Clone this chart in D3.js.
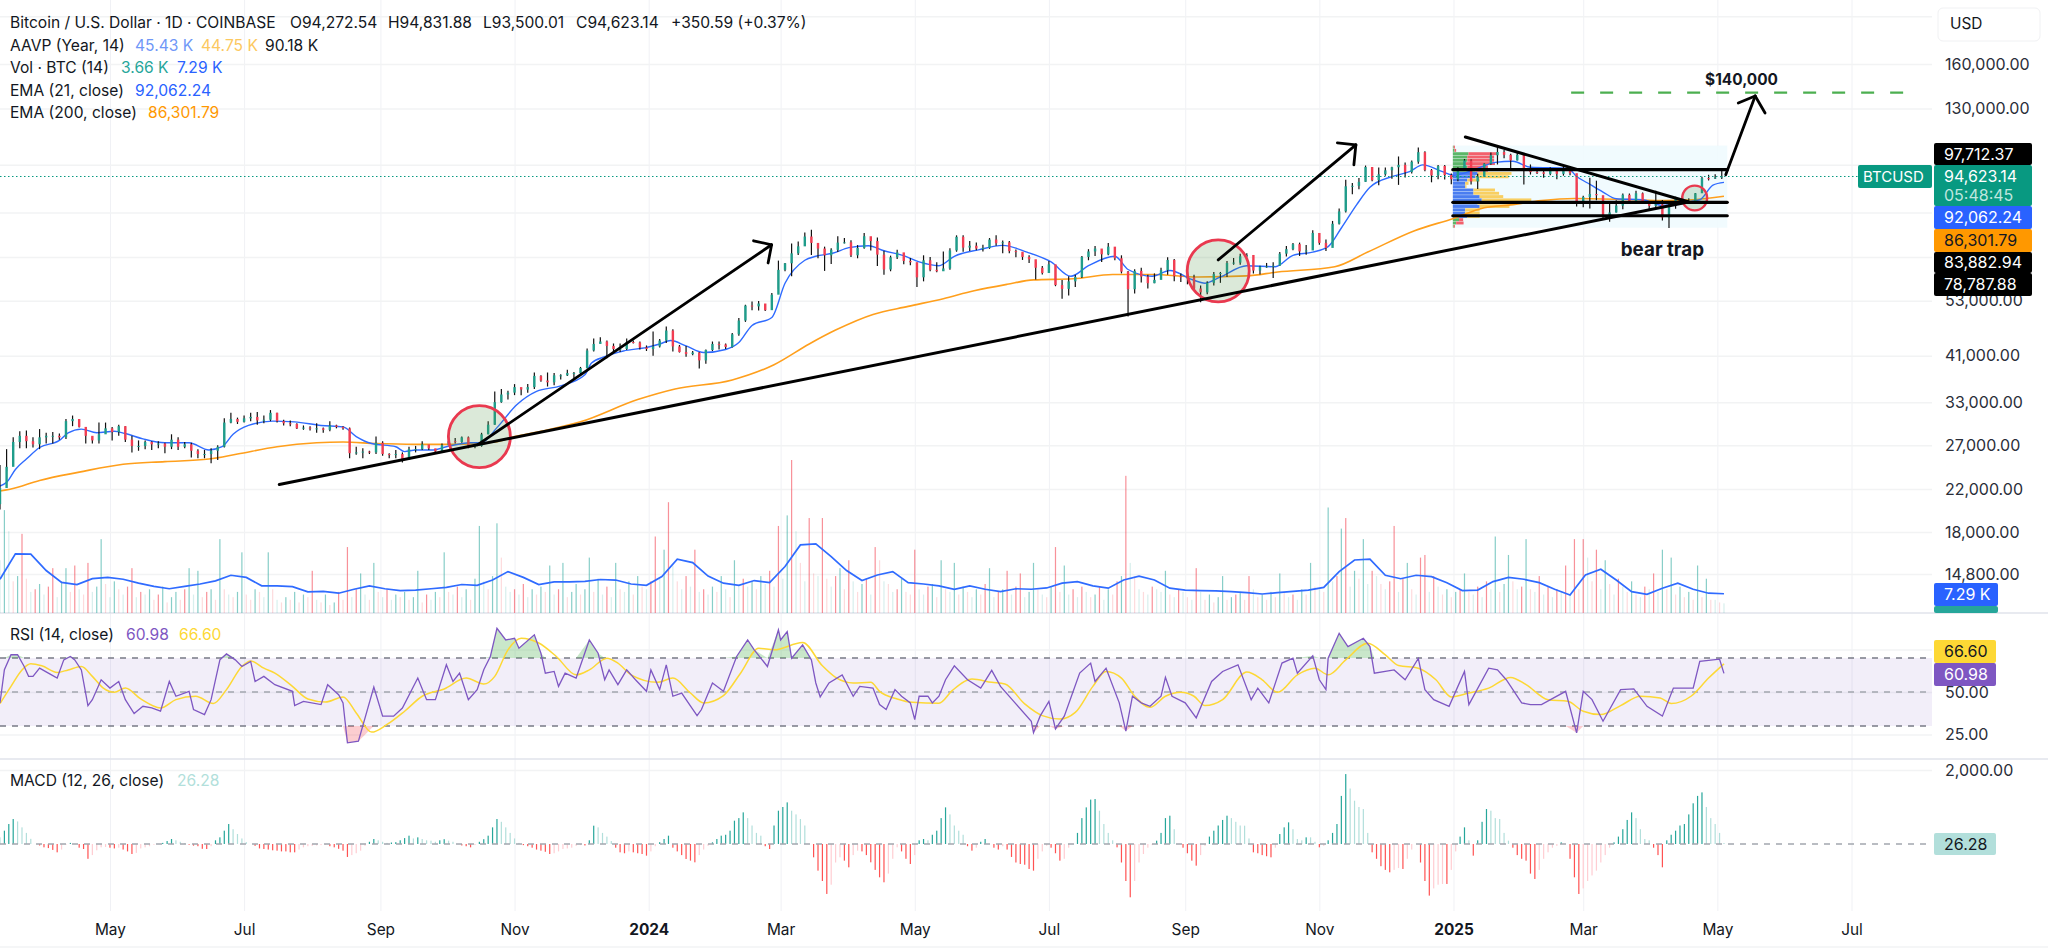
<!DOCTYPE html>
<html>
<head>
<meta charset="utf-8">
<title>BTCUSD</title>
<script src="https://cdn.jsdelivr.net/npm/d3@7"></script>
<style>
  html, body { margin: 0; padding: 0; background: #fff; }
  svg { display: block; font-family: Inter, "Noto Sans", sans-serif; }
</style>
</head>
<body>
<div id="chart"></div>
<script>
// 1: DATA. Days count from the first candle (12 Mar 2023), prices in thousands of USD

// one candle per 3 days
const closes = [
  22.1,24.4,27.4,28.2,27.5,27.1,28.0,28.2,28.2,28.0,
  30.2,30.5,29.4,28.2,27.6,28.4,29.2,28.7,29.5,27.7,
  26.9,26.9,27.4,27.1,27.2,26.8,27.7,26.8,27.1,26.3,
  25.9,25.9,26.3,26.8,30.0,30.5,30.1,30.6,30.8,30.3,
  30.4,31.4,30.2,29.9,29.8,29.2,29.3,29.2,29.2,29.0,
  29.6,29.4,29.2,26.0,26.1,26.2,26.1,27.3,25.9,25.8,
  25.9,25.2,26.5,26.5,27.1,26.6,26.2,27.0,27.5,27.4,
  28.0,26.9,26.9,28.4,29.7,33.0,34.2,34.5,35.4,35.0,
  35.4,37.3,36.5,36.2,37.4,37.4,37.8,37.8,38.7,42.0,
  43.3,43.8,42.9,42.3,42.3,43.7,43.6,42.6,42.3,42.8,
  44.0,46.1,42.8,41.7,41.3,41.6,40.1,42.1,43.3,43.2,
  42.7,45.3,48.3,51.8,51.6,52.3,50.7,54.5,61.2,63.1,
  66.1,68.3,71.5,69.4,67.6,65.5,67.2,69.5,69.6,65.5,
  67.8,71.6,70.0,65.7,61.3,64.9,66.4,63.8,63.4,59.1,
  64.0,61.2,60.8,61.6,67.0,71.4,67.9,68.5,67.6,67.8,
  70.5,69.3,69.6,66.8,66.6,65.0,64.3,61.8,60.3,62.8,
  57.0,56.0,58.0,59.2,65.0,66.7,67.6,65.8,68.2,64.6,
  60.7,55.9,60.9,59.3,57.5,58.4,61.1,64.1,59.4,59.1,
  59.1,56.1,55.1,57.6,60.0,60.3,63.2,63.3,65.2,65.6,
  61.0,62.1,62.2,62.4,66.0,67.4,69.0,66.7,67.0,72.7,
  69.4,67.8,75.9,80.4,90.4,90.6,92.3,98.9,93.0,95.6,
  97.4,98.8,99.9,96.6,101.4,106.0,97.5,95.1,99.4,95.3,
  93.4,98.1,102.0,92.5,94.5,100.5,104.5,106.1,104.7,102.0,
  104.7,97.7,96.6,96.5,95.8,97.5,95.8,98.2,96.1,84.3,
  86.0,87.2,86.7,78.5,80.0,82.6,86.9,83.8,87.5,84.3,
  82.5,83.1,78.2,82.6,85.3,83.6,84.4,87.5,93.9,93.7,
  94.2,94.62
];
const highs = [
  24.6,26.5,28.0,28.8,28.9,28.0,29.1,28.6,28.7,28.5,
  30.5,31.0,30.3,29.4,28.0,30.0,30.0,29.4,29.7,29.5,
  28.2,27.6,27.6,27.5,27.5,27.3,28.4,28.0,27.4,27.3,
  26.5,26.4,26.6,27.0,30.6,31.4,30.7,31.0,31.4,31.5,
  31.0,31.8,31.4,30.4,30.3,29.9,29.6,29.5,29.9,29.3,
  30.2,29.7,29.5,29.3,26.8,26.6,26.3,28.1,27.5,26.0,
  26.4,26.1,26.8,26.9,27.5,27.0,26.5,27.2,28.5,27.9,
  28.1,28.1,27.1,28.6,30.2,34.7,35.1,34.8,35.9,35.3,
  35.9,37.9,37.4,37.9,37.8,37.6,38.4,38.0,38.9,42.4,
  44.4,44.7,44.0,43.4,43.4,44.4,44.0,43.8,43.0,45.9,
  44.3,47.0,46.4,43.1,42.9,41.9,41.7,42.2,43.8,43.8,
  43.4,45.6,48.9,52.0,52.8,52.9,52.0,54.9,63.9,63.2,
  69.2,69.9,72.9,73.8,68.9,68.2,67.7,71.6,71.0,70.3,
  68.7,72.7,71.3,71.2,66.9,65.4,67.2,65.3,64.7,63.3,
  65.5,65.0,63.4,66.7,67.7,71.9,71.9,70.0,69.5,68.8,
  71.0,71.9,70.2,70.0,67.3,66.0,65.5,63.4,62.3,63.8,
  62.6,58.4,59.4,59.8,65.3,67.4,68.4,67.1,69.4,66.8,
  65.5,60.9,61.4,61.8,59.8,60.2,61.8,64.9,64.4,60.2,
  59.8,59.8,56.9,58.0,60.6,60.6,63.8,64.7,66.0,66.1,
  64.1,62.4,63.2,63.4,66.5,68.4,69.4,69.5,68.7,73.6,
  72.7,70.5,76.9,81.5,93.2,91.8,94.0,99.6,98.9,98.7,
  98.7,99.0,103.9,101.0,102.0,108.3,106.5,98.0,99.8,99.9,
  96.0,98.8,102.7,102.5,95.8,100.7,105.9,109.1,107.1,105.2,
  106.4,102.8,100.1,98.0,98.0,98.8,97.0,99.5,99.4,92.0,
  86.5,94.1,92.8,86.5,84.3,84.7,87.4,87.4,88.5,87.8,
  83.8,88.5,84.8,83.5,86.1,86.5,85.5,87.6,94.5,95.4,
  95.6,97.4
];
const lows = [
  20.0,23.9,24.8,26.6,26.6,26.7,26.5,27.2,27.2,27.7,
  27.8,29.5,29.3,27.2,27.2,27.2,28.9,27.6,28.2,27.4,
  26.1,26.3,26.5,26.4,26.6,26.0,26.5,26.4,26.6,25.5,
  25.4,25.4,24.8,25.2,26.7,29.9,29.8,30.0,30.2,29.7,
  29.9,30.2,30.0,29.6,29.5,29.1,29.0,28.9,28.6,28.6,
  28.8,29.2,29.0,25.4,25.8,25.4,25.9,25.9,25.7,25.4,
  25.4,24.9,25.2,26.1,26.4,26.4,26.0,26.1,27.2,27.2,
  27.3,26.6,26.6,26.8,28.4,29.7,32.9,33.4,34.1,34.1,
  34.5,35.1,36.3,35.5,35.7,36.7,37.3,36.9,37.6,38.6,
  41.8,43.5,40.5,41.5,41.7,42.1,43.4,42.2,41.9,41.0,
  42.6,43.5,41.8,41.6,40.8,41.1,38.6,39.5,41.9,42.2,
  42.3,42.6,45.0,48.0,50.7,50.6,50.5,50.9,56.0,60.8,
  59.4,65.6,68.5,65.6,64.6,60.9,62.9,66.5,69.2,65.0,
  64.6,67.5,67.0,62.3,59.8,60.8,64.4,62.8,62.5,56.5,
  58.0,60.8,60.5,60.9,61.2,66.6,66.6,66.8,67.1,66.7,
  67.5,68.5,66.1,66.1,64.9,64.1,63.2,58.5,59.9,60.5,
  56.7,53.5,54.3,56.5,58.9,64.0,65.3,63.5,65.5,64.0,
  60.2,49.2,54.8,57.7,56.1,57.5,58.8,59.8,58.0,57.8,
  57.2,55.6,52.6,54.6,56.9,57.6,59.2,62.7,62.7,65.0,
  60.2,59.9,61.8,58.9,62.4,65.1,67.1,65.3,65.7,67.5,
  68.8,66.8,68.5,75.6,80.0,87.1,89.2,92.3,92.6,90.8,
  95.0,93.6,91.0,94.2,96.0,100.4,97.0,92.1,93.4,93.3,
  91.3,92.5,97.9,91.2,89.3,94.8,100.0,100.1,103.0,97.8,
  102.0,91.2,95.5,95.7,94.1,95.2,93.4,95.0,95.2,82.3,
  82.0,81.5,84.7,78.0,76.6,80.0,81.2,83.6,85.0,83.5,
  81.3,81.5,77.1,74.4,81.4,83.1,83.9,83.9,91.7,92.9,
  93.5,93.5
];

// [day, price]
const ema21 = [
  [0,22.3],[3,22.7],[7,24.1],[12,25.3],[18,26.7],[27,27.6],[31,28.6],[37,29.1],[44,28.6],[52,28.8],
  [57,28.5],[65,27.8],[75,27.3],[86,27.3],[95,26.4],[101,26.8],[106,28.4],[113,29.6],[124,30.2],[134,30.1],
  [146,29.6],[156,29.4],[162,28.1],[169,27.2],[180,26.8],[184,26.2],[189,26.4],[197,26.4],[203,26.8],[214,27.3],
  [219,27.3],[226,29.3],[235,32.6],[244,34.7],[255,35.6],[266,37.5],[269,39.6],[275,40.8],[283.5,41.9],[294,42.6],
  [300,43.3],[305,44],[312,42.9],[320,41.6],[330,42.2],[336,43.6],[342,47.2],[351,49],[357,57.5],[366,64],
  [371,65.2],[379,66.2],[386,67.9],[395,68.5],[402,66.9],[411,65.4],[418,63.5],[427,62.4],[434,65.2],[445,67.2],
  [456,68.6],[467,66.5],[478,63.5],[487,59.4],[495,62.4],[507,65.2],[513,61.3],[524,59.4],[532,61],[542,58.5],
  [548,57.5],[555,59.2],[567,62.4],[580,62.1],[588,65.5],[597,66.5],[604,68.2],[610,74.4],[617,83],[623,90],
  [633,94.6],[641,96.8],[647,99.9],[656,96.8],[661,95.2],[670,97.5],[680,101.1],[688,101.6],[696,98.8],[713,98.3],
  [717,94.6],[722,91.8],[729,88],[735,85.3],[747,84.9],[756,82.7],[766,83.9],[773,84.9],[779,90.9],[784,92.06]
];
const ema200 = [
  [0,21.8],[5,22],[18,22.9],[36,23.8],[56,24.7],[75,25],[95,25.3],[108,25.9],[126,26.8],[144,27.3],
  [156,27.4],[171,27.2],[189,27.1],[207,27.1],[225,27.4],[234,28.1],[246,28.8],[264,30.1],[290,33.4],[307,35.1],
  [333,36.6],[352,39.3],[368,43.3],[380,46.2],[397,49.7],[413,51.6],[429,53.5],[443,55.5],[458,57.2],[470,58.4],
  [488,58.7],[506,59.9],[524,59.9],[545,59.2],[567,59.5],[581,60.6],[607,62.1],[622,66.5],[643,73.4],[661,77.8],
  [675,81.8],[687,82.9],[701,84.6],[716,85.4],[740,85],[757,84.6],[770,84.9],[784,86.3]
];

// one volume bar per 2 days, thousands of BTC, sign = candle direction
const volumes = [
  20,39,31,-12,14,-30,-13,8,-9,11,
  7,-10,-17,6,12,17,-8,-18,9,-7,
  -19,8,10,28,-11,6,12,-9,7,-10,
  -17,6,-8,7,9,-5,-7,10,-4,6,
  8,-5,-9,17,7,16,-6,-8,9,-5,
  28,-9,7,-6,8,23,-7,-5,9,-8,
  6,23,-9,5,-4,6,-5,8,-4,7,
  -6,-16,5,-4,7,-3,4,-8,-5,-25,
  6,-9,15,7,-5,19,-8,6,-9,5,
  7,-6,8,-5,6,16,-4,-7,5,8,
  -6,23,-8,7,-10,6,9,-5,13,33,
  12,-9,14,34,-21,10,8,-9,7,-11,
  6,9,-7,10,-8,18,7,-9,19,-6,
  8,11,-7,9,21,-8,13,7,-10,6,
  19,-9,8,12,-7,14,-10,9,-12,-29,
  13,24,-42,18,-12,9,-14,10,-24,8,
  -9,7,10,-8,14,9,-6,20,11,-13,
  10,12,-9,14,11,-16,10,-33,13,37,
  -58,31,-19,12,-36,-15,14,-36,-13,10,
  -14,17,-9,-20,12,-8,11,-13,7,-25,
  -20,12,-11,8,-9,13,-8,-7,-24,9,
  7,-10,11,-6,20,-9,8,19,-7,10,
  -8,6,9,-7,-11,17,6,-8,9,-16,
  7,-10,-15,6,8,19,-9,7,-6,10,
  -25,-8,18,7,-9,6,-10,8,-6,7,
  -10,5,9,-7,-12,14,-52,19,-14,9,
  -8,7,-10,9,8,16,-7,6,-9,8,
  -6,5,-17,8,-5,7,-4,6,14,-5,
  6,-7,8,-5,-14,9,-6,7,-5,8,
  -6,15,-8,6,-7,5,9,-7,19,-10,
  9,-8,40,12,-14,32,-36,10,16,-13,
  28,11,-16,14,-11,9,-12,-33,8,-13,
  19,-9,7,-21,-22,8,-14,10,-7,9,
  -6,8,-9,15,-8,7,-10,6,-12,9,
  29,-8,11,22,-12,9,-10,28,-9,8,
  -14,7,-10,6,-9,8,-18,7,-28,-9,
  -28,21,-12,-24,9,20,-11,7,-13,10,
  -8,12,-7,6,-10,9,-15,8,24,-9,
  21,-7,10,-6,8,-5,18,-6,13,-5,
  5,-4,3.66
];
// one point per 7 days
const volumeMa = [
  12.8,22.4,22.3,16.1,11.6,10.8,13,13.5,12.8,11.3,
  10.1,9.2,10.1,11,12.2,14.3,13.5,10.3,10.3,10,
  8,8.2,7.5,9,10.3,9.2,8.5,8.7,9.2,9.7,
  10.8,10.5,12.5,15.7,13.5,10.8,11.8,11.8,12,12.7,
  12.5,11,10.5,13.8,20.4,19.1,14,11.3,10.5,12.3,
  11.5,17.6,25.8,26.2,21.4,16.1,12.3,14.4,15.7,11.5,
  11,10.3,9,10.3,9,8.1,9.2,9,9.5,11.3,
  11.9,10.3,9.4,12.5,14,12.5,9.4,8.7,8.5,8.4,
  8.1,7.7,7.2,7.7,8.2,8.7,9.7,15.7,20.1,20.4,
  14.3,13,14.3,13.8,11.5,8.5,8.7,11.9,13.5,12.8,
  11.5,9,6.8,14.4,16.6,12.5,8.1,7.1,9.4,11.3,
  9,7.5,7.29
];

// [day, value]
const rsi = [
  [0,43.6],[2,63.1],[5,71.9],[8,71.9],[11,65],[13,59.2],[15,59.2],[18,64],[22,61.1],[26,58.2],
  [29,68.9],[32,70.9],[34,68.9],[37,63],[40,42],[42,45.5],[46,57.2],[50,52.3],[54,56.2],[57,45.5],
  [61,37.3],[65,41.6],[69,40.6],[73,38.7],[77,56.2],[80,47.5],[86,50.4],[88,39.7],[93,36.7],[96,45.5],
  [100,68.9],[103,72.4],[107,68.9],[110,65],[114,68],[116,56.2],[120,59.2],[125,54.3],[133,50.4],[134,42],
  [138,44.5],[146,42.6],[149,54.3],[154,48.4],[156,43.6],[158,20.1],[163,21.1],[170,52.9],[174,35.8],[179,35.8],
  [183,40.6],[190,58.2],[194,45.5],[198,45.5],[203,66],[206,56.2],[209,61.1],[213,45.5],[217,51.4],[220,63.1],
  [223,70.9],[226,87.5],[230,80.6],[234,81.6],[236,75.8],[243,83.6],[246,72.8],[248,61.1],[252,62.1],[254,53.3],
  [257,61.1],[262,58.2],[268,80.6],[272,72.8],[275,57.2],[277,63],[281,54.3],[285,63],[289,57.2],[294,50.4],
  [296,63],[300,51.4],[303,66],[306,47.5],[310,49.4],[317,36.1],[319,39.7],[324,55.3],[329,50.4],[335,70.9],
  [340,80.6],[343,74.8],[349,65],[354,86.5],[355,80.6],[358,85.5],[360,69.9],[365,77.7],[369,68.9],[371,55.3],
  [373,47.1],[377,55.3],[383,60.1],[388,47.5],[391,53.3],[397,52.3],[400,42.6],[403,39.7],[407,51.4],[410,47.5],
  [414,43.6],[416,33.8],[418,47.5],[422,47.5],[424,43.6],[427,47.5],[430,57.2],[434,65.4],[440,57.2],[446,52.3],
  [451,62.7],[455,53.3],[461,44.5],[469,32.8],[470,26],[473,35.8],[477,44.5],[480,28.3],[484,35.8],[491,61.1],
  [496,67],[498,56.2],[503,64],[509,43.6],[512,27],[515,47.5],[519,43.6],[523,41.6],[528,47.5],[530,58.6],
  [533,47.5],[539,43.6],[544,34.8],[551,56.2],[556,62.1],[563,66],[569,45.5],[572,52.3],[577,43.6],[583,67],
  [588,69.9],[590,61.1],[597,71.3],[600,57.2],[603,51.4],[604,69.9],[609,84.5],[613,76.7],[620,81.6],[623,76.7],
  [625,61.1],[634,63],[639,57.2],[645,69.7],[648,51.4],[652,45.5],[659,41.6],[666,62.1],[668,42.6],[677,64],
  [681,63],[685,57.2],[692,43.6],[696,42.6],[701,42.6],[712,50.4],[717,26],[720,50.4],[724,45.5],[729,32.8],
  [737,51.4],[743,51.8],[749,41.6],[756,35.8],[761,52.3],[770,52.3],[773,68],[782,69.3],[784,60.98]
];
const rsiMa = [
  [0,43.2],[5,53.3],[10,63],[14,66.6],[19,65.4],[26,61.5],[31,63],[37,65],[42,59.2],[47,52.3],
  [52,49.8],[57,52.3],[64,45.9],[73,40.6],[80,45.5],[89,47.5],[97,43.2],[103,51.4],[110,65],[114,68.3],
  [120,64],[125,61.1],[133,53.3],[140,45.9],[148,44.1],[156,47.1],[162,37.7],[169,26.4],[176,30.9],[184,38.7],
  [192,47.5],[202,51.8],[212,58.2],[220,54.7],[225,59.2],[231,74.8],[237,81.6],[245,78.8],[253,70.9],[262,60.1],
  [268,63],[276,69.9],[281,67],[287,60.1],[299,55.7],[306,58.2],[314,49.4],[320,43.6],[329,47.9],[337,61.5],
  [345,75.7],[352,74.8],[365,79.1],[374,65.4],[380,58.6],[388,55.3],[396,55.7],[400,50.4],[408,45.9],[415,43.9],
  [427,43.4],[433,50.8],[442,57.6],[451,55.7],[457,54.7],[466,43],[474,36.1],[482,34.1],[489,38],[497,53.3],
  [503,62.1],[510,58.2],[516,47.5],[523,41],[530,47.5],[537,49.8],[543,47.5],[548,42],[556,45.5],[567,61.7],
  [574,57.2],[581,49.8],[590,60.1],[598,64],[604,60.1],[612,68.9],[622,78.7],[630,71.8],[636,65.6],[645,64],
  [653,57.2],[660,47.1],[668,49.4],[677,52.3],[687,58.6],[694,54.3],[704,45.5],[713,44.5],[720,38.7],[728,36.7],
  [737,42],[746,47.5],[755,46.5],[760,43.2],[769,47.5],[777,58.2],[784,66.6]
];

// one histogram bar per 2 days
const macd = [
  180,360,540,675,610,450,300,140,0,-40,
  -90,-110,-160,-225,-150,-20,30,0,-100,-135,
  -400,-300,-170,-90,-80,-100,-120,-100,-150,-200,
  -270,-240,-120,-90,-60,-20,0,30,80,135,
  100,60,20,-20,-45,-60,-130,-135,-60,100,
  180,360,540,400,270,150,50,0,-50,-120,
  -135,-150,-170,-180,-200,-200,-225,-225,-150,-90,
  -60,-50,-40,-30,-20,-60,-90,-130,-180,-350,
  -300,-250,-180,-50,60,135,100,60,30,40,
  50,100,160,225,150,180,135,100,90,60,
  100,130,90,60,0,-40,-60,-90,-30,60,
  130,225,450,675,600,450,300,150,30,-30,
  -60,-100,-150,-180,-210,-270,-250,-200,-135,-120,
  -100,-50,-30,-40,100,495,450,300,200,80,
  -100,-225,-250,-200,-225,-250,-270,-315,-200,-60,
  50,135,225,-100,-200,-300,-405,-450,-495,-300,
  -150,-50,45,135,225,250,360,630,700,855,
  700,500,300,225,-60,-135,500,900,1000,1125,
  900,800,675,500,0,-360,-720,-1000,-1350,-1100,
  -500,-360,-450,-630,-300,-180,-200,-300,-495,-700,
  -900,-1035,-800,-400,-90,-200,-400,-540,-300,100,
  135,100,250,360,700,990,800,500,360,250,
  -60,-180,-100,60,135,0,-100,-150,-60,-150,
  -350,-500,-540,-560,-675,-720,-400,-200,-45,-100,
  -250,-450,-400,-100,0,300,700,990,1200,1215,
  900,540,300,100,-90,-500,-1000,-1440,-1000,-500,
  -270,-100,-30,90,300,700,765,400,0,-100,
  -250,-450,-585,-300,-50,200,360,500,650,765,
  700,600,500,495,150,-225,-250,-300,-330,-360,
  -100,270,450,585,400,135,100,180,180,60,
  -90,-50,100,300,540,1300,1890,1500,1170,1000,
  945,300,-225,-400,-600,-700,-765,-700,-650,-675,
  -400,-150,0,-500,-1000,-1395,-1200,-1100,-1080,-1080,
  -700,-200,200,450,100,-315,100,600,945,900,
  700,675,300,90,-100,-300,-400,-450,-800,-945,
  -700,-400,-225,-100,-50,45,0,-400,-900,-1350,
  -1200,-1000,-850,-720,-500,-300,-100,45,200,400,
  650,855,700,400,135,100,-100,-300,-630,100,
  250,360,500,540,800,1100,1300,1395,1000,700,
  540,300,26.28
];

// volume profile rows from top to bottom: left and right segment of each row
const profileLeft = [2,4,38,35,35,30,35,55,60,55,35,30,30,50,50,65,70,60,65,30,30,35,15,8,2];
const profileRight = [3,4,70,65,65,72,50,30,82,80,30,8,3,52,62,57,120,90,72,35,35,30,10,18,3];

// drawn annotations, [day, price]
const trendLine = [[127,22.46],[766,83.7]];
const fallingLine = [[666.4,113.8],[767.7,84.1]];
const arrows = [
  {from: [217.3,27.06], tip: [350.9,68.8], head: [[342.7,70.1],[349.3,63.2]]},
  {from: [554,64.1], tip: [616.6,109.7], head: [[608.2,110.7],[615.7,99.9]]},
  {from: [784.8,95.4], tip: [798.2,137.8], head: [[790.5,133.4],[802.7,127.3]]}
];
const levels = [97.71237, 83.88294, 78.78788];
const circles = [[218,28.1,31],[554,60.9,31],[770.7,85.6,12.4]];

// 200k, 100k, 80k, 65k only show as grid lines, their labels sit behind the tags
const priceTicks = [200000,160000,130000,100000,80000,65000,53000,41000,33000,27000,22000,18000,14800];
const hiddenLabels = [200000,100000,80000,65000,75];
const monthTicks = [
  [2023,4,"May"],[2023,6,"Jul"],[2023,8,"Sep"],[2023,10,"Nov"],[2024,0,"2024"],[2024,2,"Mar"],[2024,4,"May"],
  [2024,6,"Jul"],[2024,8,"Sep"],[2024,10,"Nov"],[2025,0,"2025"],[2025,2,"Mar"],[2025,4,"May"],[2025,6,"Jul"]
];

// 2: SVG AND SCALES
const width = 2048, height = 948;
const plotRight = 1932;
const firstDay = new Date(2023, 2, 12);

const svg = d3.select("#chart").append("svg")
    .attr("width", width)
    .attr("height", height);

const x = d3.scaleTime()
    .domain([firstDay, new Date(2025, 6, 1)])
    .range([0, 1851.5]);
const xDay = d => x(d3.timeDay.offset(firstDay, Math.floor(d))) + (d % 1) * 2.2;

const yPrice = d3.scaleLog().domain([160000, 22000]).range([64, 489]);
const yK = k => yPrice(k * 1000);
const yVol = d3.scaleLinear().domain([0, 58]).range([613, 460]);
const yRsi = d3.scaleLinear().domain([30, 70]).range([726, 658]);
const yMacd = d3.scaleLinear().domain([0, 2000]).range([844, 770]);
const profileWidth = d3.scaleLinear().domain([0, 100]).range([0, 41.3]);

// 3: GRID AND AXES
const monthDates = monthTicks.map(d => new Date(d[0], d[1], 1));
const monthLabel = new Map(monthDates.map((d, i) => [+d, monthTicks[i][2]]));

const xAxis = svg.append("g")
    .attr("transform", "translate(0,911)")
    .call(d3.axisBottom(x).tickValues(monthDates).tickSize(-911).tickPadding(13)
        .tickFormat(d => monthLabel.get(+d)));
xAxis.select(".domain").remove();
xAxis.selectAll("line").attr("stroke", "#f0f1f5").attr("stroke-width", 1);
xAxis.selectAll("text")
    .attr("font-family", "Inter, sans-serif")
    .attr("font-size", 15.4)
    .attr("fill", "#131722")
    .attr("font-weight", d => d.getMonth() === 0 ? 700 : 400);

function rightAxis(scale, ticks, format) {
    const g = svg.append("g")
        .attr("transform", `translate(${plotRight},0)`)
        .call(d3.axisRight(scale).tickValues(ticks).tickSize(-plotRight).tickPadding(13).tickFormat(format));
    g.select(".domain").remove();
    g.selectAll("line").attr("stroke", "#f2f3f4").attr("stroke-width", 1.5);
    g.selectAll("text")
        .attr("font-family", "Inter, sans-serif")
        .attr("font-size", 16)
        .attr("fill", "#2a2e39");
    return g;
}
const fmt = d => hiddenLabels.includes(d) ? "" : d3.format(",.2f")(d);
rightAxis(yPrice, priceTicks, fmt);
rightAxis(yRsi, [75, 50, 25], fmt);
rightAxis(yMacd, [2000], fmt);

// pane separators
[613, 759].forEach(y => {
    svg.append("line").attr("x1", 0).attr("x2", width).attr("y1", y).attr("y2", y)
        .attr("stroke", "#e0e3eb").attr("stroke-width", 1.5);
});
svg.append("line").attr("x1", 0).attr("x2", width).attr("y1", 947).attr("y2", 947)
    .attr("stroke", "#f2f3f4").attr("stroke-width", 1.5);

// 4: PRICE PANE
const boxLeft = xDay(660.7), boxRight = xDay(785.5);

// volume profile
svg.append("rect")
    .attr("x", boxLeft).attr("width", boxRight - boxLeft)
    .attr("y", yK(109.3)).attr("height", yK(74.5) - yK(109.3))
    .attr("fill", "#effafe").attr("opacity", 0.85);

const rowScale = d3.scaleBand().domain(d3.range(profileLeft.length)).range([yK(109.3), yK(74.5)]).paddingInner(0.12);
const valueArea = i => i >= 8 && i <= 21;
svg.append("g").selectAll("rect").data(profileLeft).enter().append("rect")
    .attr("x", boxLeft)
    .attr("y", (d, i) => rowScale(i))
    .attr("width", d => profileWidth(d))
    .attr("height", rowScale.bandwidth())
    .attr("fill", (d, i) => valueArea(i) ? "#4a7df0" : "#5cb668");
svg.append("g").selectAll("rect").data(profileRight).enter().append("rect")
    .attr("x", (d, i) => boxLeft + profileWidth(profileLeft[i]))
    .attr("y", (d, i) => rowScale(i))
    .attr("width", d => profileWidth(d))
    .attr("height", rowScale.bandwidth())
    .attr("fill", (d, i) => valueArea(i) ? "#f8cf62" : "#f2606c");

// moving averages
const lineK = d3.line().x(d => xDay(d[0])).y(d => yK(d[1])).curve(d3.curveMonotoneX);
svg.append("path").attr("d", lineK(ema200)).attr("fill", "none").attr("stroke", "#ff9f1c").attr("stroke-width", 1.6);
svg.append("path").attr("d", lineK(ema21)).attr("fill", "none").attr("stroke", "#2f6bff").attr("stroke-width", 1.4);

// candles
const candles = closes.map((c, i) => ({
    day: i * 3,
    open: i === 0 ? 20.5 : closes[i - 1],
    close: c,
    high: highs[i],
    low: lows[i]
}));
const candleG = svg.append("g").selectAll("g").data(candles).enter().append("g");
candleG.append("line")
    .attr("x1", d => xDay(d.day)).attr("x2", d => xDay(d.day))
    .attr("y1", d => yK(d.high)).attr("y2", d => yK(d.low))
    .attr("stroke", "#111").attr("stroke-width", 1.2);
candleG.append("rect")
    .attr("x", d => xDay(d.day) - 1.2)
    .attr("width", 2.4)
    .attr("y", d => yK(Math.max(d.open, d.close)))
    .attr("height", d => Math.max(1, Math.abs(yK(d.open) - yK(d.close))))
    .attr("fill", d => d.close >= d.open ? "#1f9d8b" : "#f23d52");

// last price line
svg.append("line")
    .attr("x1", 0).attr("x2", 1858)
    .attr("y1", yPrice(94623.14)).attr("y2", yPrice(94623.14))
    .attr("stroke", "#089981").attr("stroke-width", 1.2).attr("stroke-dasharray", "1.5 2.5");

// 5: DRAWN ANNOTATIONS
svg.append("g").selectAll("circle").data(circles).enter().append("circle")
    .attr("cx", d => xDay(d[0]))
    .attr("cy", d => yK(d[1]))
    .attr("r", d => d[2])
    .attr("fill", "rgba(76,145,65,0.2)")
    .attr("stroke", "#e9394f")
    .attr("stroke-width", d => d[2] > 20 ? 2.8 : 2.4);

function stroke(a, b, w) {
    svg.append("line")
        .attr("x1", xDay(a[0])).attr("y1", yK(a[1]))
        .attr("x2", xDay(b[0])).attr("y2", yK(b[1]))
        .attr("stroke", "#000").attr("stroke-width", w).attr("stroke-linecap", "round");
}
stroke(trendLine[0], trendLine[1], 3);
stroke(fallingLine[0], fallingLine[1], 3);
levels.forEach(p => stroke([660.7, p], [785.5, p], 3.2));
arrows.forEach(a => {
    stroke(a.from, a.tip, 2.8);
    a.head.forEach(h => stroke(h, a.tip, 2.8));
});

// $140,000 target
svg.append("line")
    .attr("x1", xDay(714.5)).attr("x2", xDay(867.3))
    .attr("y1", yK(140)).attr("y2", yK(140))
    .attr("stroke", "#4caf50").attr("stroke-width", 2.4).attr("stroke-dasharray", "13 16");
svg.append("text")
    .attr("x", xDay(792)).attr("y", yK(148.5))
    .attr("dy", "0.35em").attr("text-anchor", "middle")
    .attr("font-size", 15.4).attr("font-weight", 700).attr("fill", "#131722")
    .text("$140,000");
svg.append("text")
    .attr("x", xDay(756)).attr("y", yK(67.2))
    .attr("dy", "0.35em").attr("text-anchor", "middle")
    .attr("font-size", 18.8).attr("font-weight", 700).attr("fill", "#131722")
    .text("bear trap");

// 6: VOLUME PANE
const volumeBars = volumes.map((v, i) => ({
    day: i * 2,
    value: Math.abs(v),
    up: v > 0,
    growing: i > 0 && Math.abs(v) > Math.abs(volumes[i - 1])
}));
svg.append("g").selectAll("rect").data(volumeBars).enter().append("rect")
    .attr("x", d => xDay(d.day) - 0.6)
    .attr("width", 1.2)
    .attr("y", d => yVol(d.value))
    .attr("height", d => yVol(0) - yVol(d.value))
    .attr("fill", d => d.up ? "#26a69a" : "#f23645")
    .attr("opacity", d => d.growing ? 0.55 : 0.18);

svg.append("path")
    .attr("d", d3.line().x((d, i) => xDay(i * 7)).y(d => yVol(d))(volumeMa))
    .attr("fill", "none").attr("stroke", "#2f6bff").attr("stroke-width", 1.7);

// 7: RSI PANE
svg.append("rect")
    .attr("x", 0).attr("width", plotRight)
    .attr("y", yRsi(70)).attr("height", yRsi(30) - yRsi(70))
    .attr("fill", "rgba(126,87,194,0.1)");
[70, 50, 30].forEach(v => {
    svg.append("line")
        .attr("x1", 0).attr("x2", plotRight)
        .attr("y1", yRsi(v)).attr("y2", yRsi(v))
        .attr("stroke", v === 50 ? "#a3a6af" : "#787b86")
        .attr("stroke-width", 1.5).attr("stroke-dasharray", "6 6");
});

// shading above 70 and below 30
svg.append("path")
    .attr("d", d3.area().x(d => xDay(d[0])).y0(yRsi(70)).y1(d => yRsi(Math.max(d[1], 70)))(rsi))
    .attr("fill", "rgba(76,175,80,0.3)");
svg.append("path")
    .attr("d", d3.area().x(d => xDay(d[0])).y0(yRsi(30)).y1(d => yRsi(Math.min(d[1], 30)))(rsi))
    .attr("fill", "rgba(242,54,69,0.25)");

const lineRsi = d3.line().x(d => xDay(d[0])).y(d => yRsi(d[1]));
svg.append("path").attr("d", lineRsi.curve(d3.curveMonotoneX)(rsiMa))
    .attr("fill", "none").attr("stroke", "#fdd835").attr("stroke-width", 1.5);
svg.append("path").attr("d", lineRsi.curve(d3.curveLinear)(rsi))
    .attr("fill", "none").attr("stroke", "#7e57c2").attr("stroke-width", 1.3);

// 8: MACD PANE
const macdBars = macd.map((v, i) => ({ day: i * 2, value: v, rising: i > 0 && v > macd[i - 1] }));
svg.append("g").selectAll("rect").data(macdBars).enter().append("rect")
    .attr("x", d => xDay(d.day) - 0.6)
    .attr("width", 1.2)
    .attr("y", d => Math.min(yMacd(d.value), yMacd(0)))
    .attr("height", d => Math.abs(yMacd(d.value) - yMacd(0)))
    .attr("fill", d => d.value >= 0
        ? (d.rising ? "#26a69a" : "#b2dfdb")
        : (d.rising ? "#ffcdd2" : "#ff5252"));
svg.append("line")
    .attr("x1", 0).attr("x2", plotRight)
    .attr("y1", yMacd(0)).attr("y2", yMacd(0))
    .attr("stroke", "#a3a6af").attr("stroke-width", 1.5).attr("stroke-dasharray", "6 6");

// 9: PRICE TAGS ON THE RIGHT
function tag(left, right, top, bottom, fill, textFill, label) {
    svg.append("rect")
        .attr("x", left).attr("width", right - left)
        .attr("y", top).attr("height", bottom - top)
        .attr("rx", 2)
        .attr("fill", fill);
    if (label) {
        svg.append("text")
            .attr("x", left + 10).attr("y", (top + bottom) / 2)
            .attr("dy", "0.35em")
            .attr("font-size", 16)
            .attr("fill", textFill)
            .text(label);
    }
}
tag(1858, 1932, 165, 188, "#089981", "#fff", null);
svg.append("text").attr("x", 1863).attr("y", 176.5).attr("dy", "0.35em").attr("font-size", 15).attr("fill", "#fff").text("BTCUSD");
tag(1934, 2032, 273, 296, "#000", "#fff", "78,787.88");
tag(1934, 2032, 252, 273, "#000", "#fff", "83,882.94");
tag(1934, 2032, 143, 165, "#000", "#fff", "97,712.37");
tag(1934, 2032, 165, 206, "#089981", "#fff", null);
svg.append("text").attr("x", 1944).attr("y", 176).attr("dy", "0.35em").attr("font-size", 16).attr("fill", "#fff").text("94,623.14");
svg.append("text").attr("x", 1944).attr("y", 195).attr("dy", "0.35em").attr("font-size", 16).attr("fill", "#bfe6df").text("05:48:45");
tag(1934, 2032, 206, 229, "#2962ff", "#fff", "92,062.24");
tag(1934, 2032, 229, 252, "#ff9800", "#131722", "86,301.79");
tag(1934, 1998, 606, 613, "#26a69a", "#fff", null);
tag(1934, 1998, 583, 606, "#2962ff", "#fff", "7.29 K");
tag(1934, 1996, 640, 663, "#fdd835", "#131722", "66.60");
tag(1934, 1996, 663, 686, "#7e57c2", "#fff", "60.98");
tag(1934, 1996, 833, 855, "#b2dfdb", "#131722", "26.28");

// currency box
svg.append("rect")
    .attr("x", 1938).attr("y", 8).attr("width", 102).attr("height", 33).attr("rx", 5)
    .attr("fill", "#fff").attr("stroke", "#f0f1f3");
svg.append("text").attr("x", 1950).attr("y", 24).attr("dy", "0.35em").attr("font-size", 15.4).attr("fill", "#131722").text("USD");

// 10: LEGEND
const legendRows = [
  [23, [[10,"Bitcoin / U.S. Dollar · 1D · COINBASE","#131722"],[290,"O94,272.54","#131722"],[388,"H94,831.88","#131722"],
        [483,"L93,500.01","#131722"],[576,"C94,623.14","#131722"],[671,"+350.59 (+0.37%)","#131722"]]],
  [46, [[10,"AAVP (Year, 14)","#131722"],[135,"45.43 K","#6f97f7"],[201,"44.75 K","#fcc860"],[265,"90.18 K","#131722"]]],
  [68, [[10,"Vol · BTC (14)","#131722"],[121,"3.66 K","#26a69a"],[177,"7.29 K","#2962ff"]]],
  [91, [[10,"EMA (21, close)","#131722"],[135,"92,062.24","#2962ff"]]],
  [113, [[10,"EMA (200, close)","#131722"],[148,"86,301.79","#ff9800"]]],
  [635, [[10,"RSI (14, close)","#131722"],[126,"60.98","#7e57c2"],[179,"66.60","#fdd835"]]],
  [781, [[10,"MACD (12, 26, close)","#131722"],[177,"26.28","#b2dfdb"]]]
];
legendRows.forEach(row => {
    row[1].forEach(t => {
        svg.append("text")
            .attr("x", t[0]).attr("y", row[0])
            .attr("dy", "0.35em")
            .attr("font-size", 15.6)
            .attr("fill", t[2])
            .text(t[1]);
    });
});
</script>
</body>
</html>
